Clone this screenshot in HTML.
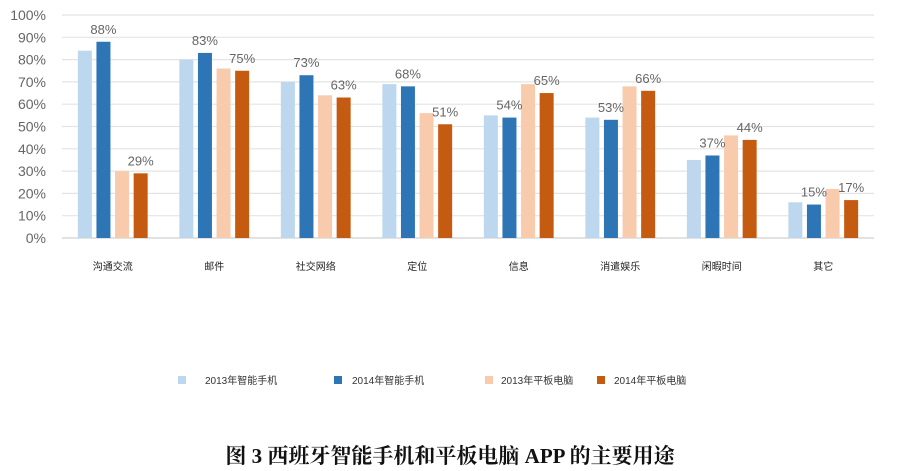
<!DOCTYPE html>
<html><head><meta charset="utf-8"><style>
html,body{margin:0;padding:0;background:#fff;width:897px;height:471px;overflow:hidden}
svg{display:block}
.t{font-family:"Liberation Sans","Noto Sans CJK SC",sans-serif}
</style></head><body>
<svg id="chart" width="897" height="471" viewBox="0 0 897 471">
<g id="grid"></g>
<g id="yticks"></g>
<g id="bars"></g>
<g id="vlabels"></g>
<g id="xlabels"></g>
<g id="legend"></g>
<text x="450" y="463" text-anchor="middle" font-family="'Liberation Serif','Noto Serif CJK SC',serif" font-weight="bold" font-size="21" fill="#111">图 3 西班牙智能手机和平板电脑 APP 的主要用途</text>
</svg>
<script>
const categories=["沟通交流","邮件","社交网络","定位","信息","消遣娱乐","闲暇时间","其它"];
const s2013Phone=[84,80,70,69,55,54,35,16];
const s2014Phone=[88,83,73,68,54,53,37,15];
const s2013Tablet=[30,76,64,56,69,68,46,22];
const s2014Tablet=[29,75,63,51,65,66,44,17];
const seriesNames=["2013年智能手机","2014年智能手机","2013年平板电脑","2014年平板电脑"];
const yTicks=[0,10,20,30,40,50,60,70,80,90,100];

const NS="http://www.w3.org/2000/svg";
const x0=62,x1=874,yBase=238,yTop=15;
const colors=["#bdd7ee","#2e75b6","#f8cbad","#c55a11"];
const series=[s2013Phone,s2014Phone,s2013Tablet,s2014Tablet];
const labeled=[false,true,false,true];
function y(v){return yBase-(yBase-yTop)*v/100;}
const step=(x1-x0)/categories.length;
function gx(i){return x0+step*(i+0.5);}
const bw=14,gap=4.6;
function bx(i,s){return gx(i)+(s-1.5)*(bw+gap)-bw/2;}
function mk(tag,attrs,parent){const e=document.createElementNS(NS,tag);for(const k in attrs)e.setAttribute(k,attrs[k]);parent.appendChild(e);return e;}
const G=id=>document.getElementById(id);

yTicks.forEach(t=>{
  const l=mk("line",{x1:x0,x2:x1,y1:y(t),y2:y(t),stroke:t===0?"#d0d0d0":"#e4e4e4","stroke-width":1.2},G("grid"));
  
  
  const tx=mk("text",{x:46,y:y(t)+5,"text-anchor":"end","font-size":14,fill:"#666",class:"t"},G("yticks"));
  tx.textContent=t+"%";
  
  
});

categories.forEach((c,i)=>{
  series.forEach((arr,s)=>{
    const r=mk("rect",{x:bx(i,s),y:y(arr[i]),width:bw,height:yBase-y(arr[i]),fill:colors[s]},G("bars"));
    
    
    if(labeled[s]){
      const t=mk("text",{x:bx(i,s)+bw/2,y:y(arr[i])-8,"text-anchor":"middle","font-size":13,fill:"#666",class:"t"},G("vlabels"));
      t.textContent=arr[i]+"%";
      
      
    }
  });
  const xl=mk("text",{x:gx(i),y:270,"text-anchor":"middle","font-size":10,fill:"#222",class:"t"},G("xlabels"));
  xl.textContent=c;
  
  
});

const legX=[178,334,485,597];
seriesNames.forEach((n,s)=>{
  const r=mk("rect",{x:legX[s],y:376,width:8,height:8,fill:colors[s]},G("legend"));
  
  
  const t=mk("text",{x:legX[s]+26-(s>=2?9:8),y:384,"font-size":10,fill:"#333",class:"t"},G("legend"));
  t.setAttribute("x",[205,352,501,614][s]);
  t.textContent=n;
  
  
});
</script>
</body></html>
